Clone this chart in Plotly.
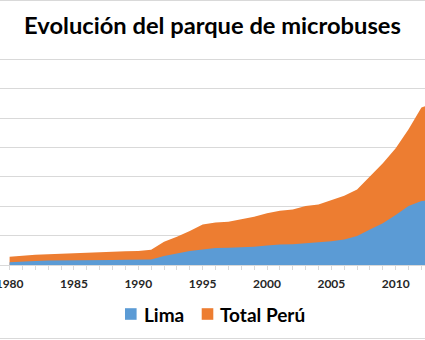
import plotly.graph_objects as go

years = list(range(1980, 2014))
# Number of microbuses (vehicles) (grid step = 10,000)
lima = [900, 1200, 1400, 1500, 1500, 1600, 1600, 1700, 1700, 1800, 1800, 1900,
        3100, 4000, 4800, 5300, 5800, 5900, 6000, 6200, 6600, 7000,
        7100, 7400, 7600, 8100, 8700, 9900, 12100, 14200, 17000, 20100, 21800, 22000]
total_peru = [2800, 3200, 3500, 3700, 3900, 4100, 4300, 4500, 4700, 4700, 4800, 5200,
              7900, 9600, 11600, 13800, 14500, 14700, 15600, 16400, 17600, 18500,
              18900, 20100, 20600, 22100, 23600, 25700, 30000, 34600, 39700, 46200, 53600, 55000]
series_names = ["Lima", "Total Perú"]

BLUE = "#5B9BD5"
ORANGE = "#ED7D31"
W, H = 425, 340

fig = go.Figure()
fig.add_trace(go.Scatter(x=years, y=total_peru, name=series_names[1], mode="lines",
                         line=dict(width=0, color=ORANGE), fill="tozeroy",
                         fillcolor=ORANGE, showlegend=False))
fig.add_trace(go.Scatter(x=years, y=lima, name=series_names[0], mode="lines",
                         line=dict(width=0, color=BLUE), fill="tozeroy",
                         fillcolor=BLUE, showlegend=False))

top_px, bot_px = 56.0, 265.0
ph = bot_px - top_px
units_per_px = 70000 / (bot_px - 59.3)
y_top = units_per_px * ph

def py(Y):
    return (bot_px - Y) / ph

def px(X):
    return X / W

shapes = [
    dict(type="line", xref="paper", yref="paper", x0=0, x1=1, y0=py(0.5), y1=py(0.5),
         line=dict(color="#d9d9d9", width=1)),
    dict(type="line", xref="paper", yref="paper", x0=0, x1=1, y0=py(338.5), y1=py(338.5),
         line=dict(color="#d9d9d9", width=1)),
]
annotations = []
leg_y = 314.0
for name, color, sq_x, txt_x in [(series_names[0], BLUE, 125.0, 142.0),
                                 (series_names[1], ORANGE, 201.7, 218.0)]:
    shapes.append(dict(type="rect", xref="paper", yref="paper",
                       x0=px(sq_x), x1=px(sq_x + 11.6),
                       y0=py(leg_y + 5.8), y1=py(leg_y - 5.8),
                       fillcolor=color, line=dict(width=0)))
    annotations.append(dict(text="<b>%s</b>" % name, xref="paper", yref="paper",
                            x=px(txt_x), y=py(leg_y), xanchor="left", yanchor="middle",
                            showarrow=False, font=dict(family="Lato", size=19, color="#000000")))

fig.update_layout(
    width=W, height=H,
    margin=dict(l=0, r=0, t=top_px, b=H - bot_px, autoexpand=False),
    paper_bgcolor="white", plot_bgcolor="white",
    title=dict(text="<b>Evolución del parque de microbuses</b>",
               font=dict(family="Lato", size=23.7, color="#000000"),
               x=0.5, xanchor="center", y=1 - 26 / H, yanchor="middle"),
    showlegend=False,
    xaxis=dict(range=[1980 - 9.6 / 12.87, 1980 - 9.6 / 12.87 + W / 12.87],
               automargin=False,
               tickmode="linear", tick0=1980, dtick=5,
               ticks="outside", ticklen=4, tickcolor="#d9d9d9",
               tickprefix="<b>", ticksuffix="</b>",
               tickfont=dict(family="Lato", size=12, color="#262626"),
               ticklabeloverflow="allow", ticklabelstandoff=4,
               showgrid=False, showline=True, linecolor="#d9d9d9", zeroline=False,
               minor=dict(dtick=1, tick0=1980, ticks="outside", ticklen=4, tickcolor="#d9d9d9")),
    yaxis=dict(range=[0, y_top], automargin=False, tickmode="linear", tick0=0, dtick=10000,
               showticklabels=False,
               showgrid=True, gridcolor="#d9d9d9", gridwidth=1, zeroline=False),
    shapes=shapes,
    annotations=annotations,
)

fig.write_html("out.html")
